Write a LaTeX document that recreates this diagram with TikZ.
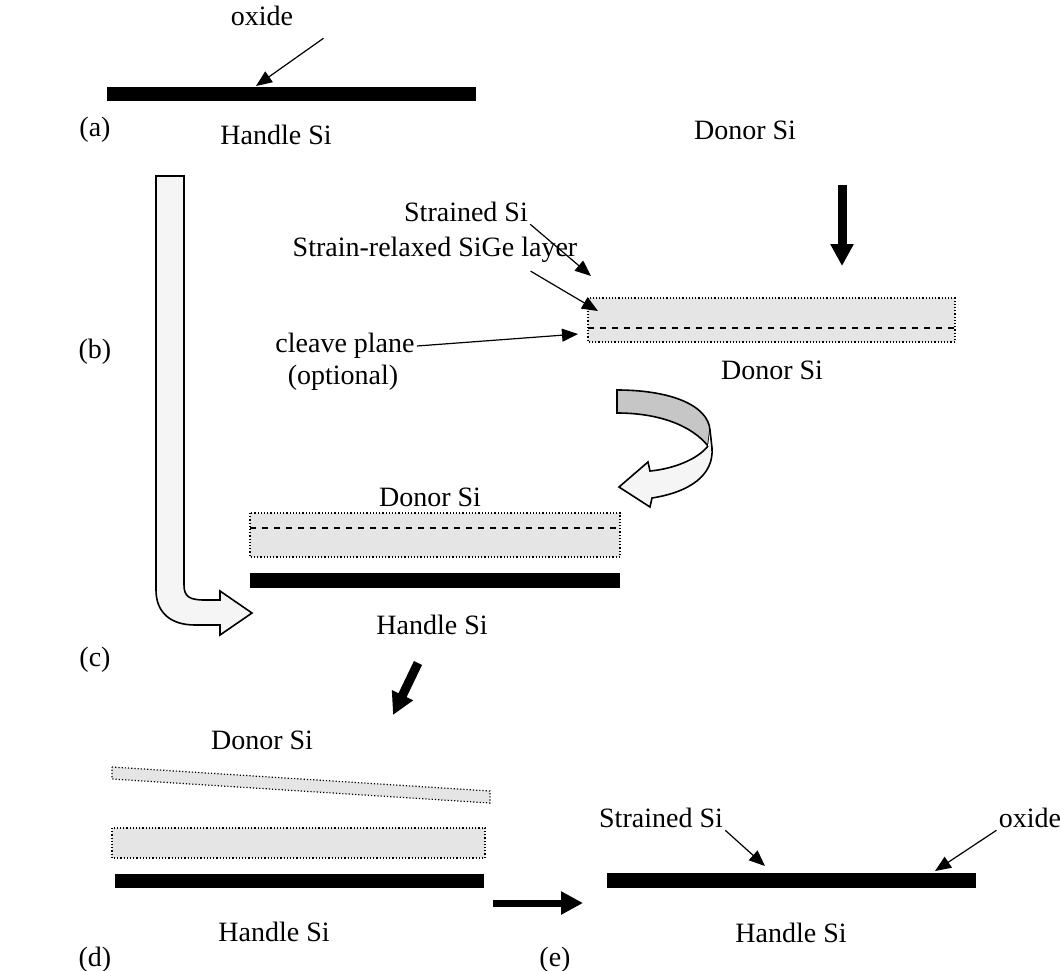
\documentclass[tikz,border=0pt]{standalone}
\usepackage{fontspec}
\setmainfont{Liberation Serif}
\usetikzlibrary{arrows.meta}

\tikzset{
  lbl/.style={inner sep=1pt, font=\fontsize{14}{16}\selectfont},
  wafer/.style={draw, densely dotted, line width=0.6pt, fill=gray!20},
  oxbar/.style={fill=black},
  cleave/.style={dashed, line width=1pt},
  ptr/.style={-{Triangle[length=8pt,width=6.5pt]}, line width=0.6pt},
  bigarrow/.style={-{Triangle[length=11pt,width=11pt]}, line width=4.5pt},
  hollow/.style={draw, line width=0.8pt, fill=gray!8},
}

\begin{document}
\begin{tikzpicture}[x=0.5pt, y=-0.5pt]
        \useasboundingbox (0,0) rectangle (1060,970);

        % (a) Handle wafer
        \fill[oxbar] (107,87) rectangle (476,101);
        \node[lbl] (oxa) at (262,16) {oxide};
        \coordinate (oxa-tip) at (256,86);
        \draw[ptr] ([xshift=14pt,yshift=-5pt]oxa.south east) -- (oxa-tip);
        \node[lbl] (hsa) at (276,135) {Handle Si};
        \node[lbl] (la) at (95,130) {(a)};

        % (b) Donor wafer
        \node[lbl] (dsa) at (745,130) {Donor Si};
        \coordinate (dn-top) at (842,185);
        \coordinate (dn-tip) at (842,266);
        \draw[bigarrow] (dn-top) -- (dn-tip);
        \draw[wafer] (588,298) rectangle (955,342);
        \draw[cleave] (588,328) -- (955,328); % cleave plane
        \node[lbl] (dsb) at (772,370) {Donor Si};
        \node[lbl] (ssb) at (466,212) {Strained Si};
        \coordinate (ssb-tip) at (591,276);
        \draw[ptr] (ssb.south east) -- (ssb-tip);
        \node[lbl] (sgb) at (435,250) {Strain-relaxed SiGe layer};
        \coordinate (sgb-tip) at (598,311);
        \draw[ptr] ([yshift=-3pt]sgb.-9) -- (sgb-tip);
        \node[lbl] (cv1) at (345,346) {cleave plane};
        \node[lbl] (cv2) at (343,378) {(optional)};
        \coordinate (cv-tip) at (578,334);
        \draw[ptr] (cv1.east) -- (cv-tip);
        \node[lbl] (lb) at (95,352) {(b)};

        % Flip arrow
        \filldraw[line width=0.8pt, fill=gray!45] (617,390) .. controls (670,390) and (708,405) .. (710,430)
            -- (708,446) .. controls (692,426) and (660,413) .. (617,413) -- cycle;
        \draw[hollow] (708,446) .. controls (697,460) and (672,469) .. (650,471) -- (648,462)
            -- (619,487) -- (650,507) -- (652,498) .. controls (690,492) and (714,475) .. (712,448) -- (710,430);

        % Down the side arrow
        \draw[hollow] (156,176) -- (184,176) -- (184,585) .. controls (184,597) and (190,600) .. (205,600)
            -- (220,600) -- (220,591) -- (252,613) -- (220,635) -- (220,625) -- (195,625)
            .. controls (170,625) and (156,612) .. (156,590) -- cycle;

        % (c) Bonded pair
        \node[lbl] (dsc) at (430,497) {Donor Si};
        \draw[wafer] (250,513) rectangle (620,557);
        \draw[cleave] (250,528) -- (620,528);
        \fill[oxbar] (250,573) rectangle (620,588);
        \node[lbl] (hsc) at (432,625) {Handle Si};
        \node[lbl] (lc) at (95,660) {(c)};
        \coordinate (cd-top) at (418,663);
        \coordinate (cd-tip) at (393,715);
        \draw[bigarrow] (cd-top) -- (cd-tip);

        % (d) Split
        \node[lbl] (dsd) at (262,740) {Donor Si};
        \draw[wafer] (112,767) -- (490,791) -- (490,803) -- (112,779) -- cycle;
        \draw[wafer] (112,828) rectangle (485,858);
        \fill[oxbar] (115,874) rectangle (484,888);
        \node[lbl] (hsd) at (274,932) {Handle Si};
        \node[lbl] (ld) at (95,960) {(d)};
        \coordinate (de-from) at (493,903);
        \coordinate (de-tip) at (583,903);
        \draw[bigarrow, line width=3.5pt] (de-from) -- (de-tip);

        % (e) SOI
        \fill[oxbar] (607,873) rectangle (976,888);
        \node[lbl] (sse) at (661,818) {Strained Si};
        \coordinate (sse-tip) at (765,866);
        \draw[ptr] (sse.south east) -- (sse-tip);
        \node[lbl] (oxe) at (1030,818) {oxide};
        \coordinate (oxe-tip) at (935,871);
        \draw[ptr] (oxe.south west) -- (oxe-tip);
        \node[lbl] (hse) at (791,933) {Handle Si};
        \node[lbl] (le) at (555,960) {(e)};
\end{tikzpicture}
\end{document}
